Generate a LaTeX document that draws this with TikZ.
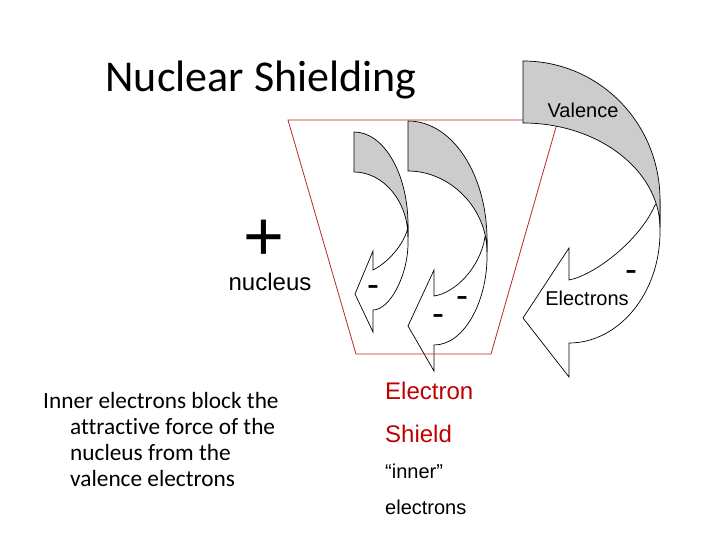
\documentclass[tikz,border=0pt]{standalone}
\usepackage{fontspec}
\setmainfont{Liberation Sans}
\newfontfamily\calib[Ligatures=NoCommon]{Carlito}
\definecolor{shred}{RGB}{192,0,0}
\definecolor{lineRed}{RGB}{185,40,40}
\definecolor{shade}{RGB}{204,204,204}
\begin{document}
\begin{tikzpicture}[x=1pt,y=-1pt,
  arrowbody/.style={draw=black,line width=0.7pt,fill=white,line join=miter},
  arrowshade/.style={draw=black,line width=0.7pt,fill=shade},
  shieldline/.style={draw=lineRed,line width=0.8pt},
  minus/.style={font=\fontsize{36}{36}\selectfont,inner sep=0,anchor=base},
  lbl/.style={inner sep=0}]
\useasboundingbox (0,0) rectangle (720,540);

% arrow A
\path[arrowbody] (408,225) -- (408,243) .. controls (408,275) and (390,310) .. (373,310) -- (373,332) -- (355,294) -- (373,251) -- (373,270) .. controls (385,264) and (401,249) .. (407,231) -- cycle;
\path[arrowshade] (354,132) .. controls (384,132) and (408,174) .. (408,225) -- (408,237) .. controls (408,201) and (383,172) .. (354,172) -- cycle;

% arrow B
\path[arrowbody] (487,240) -- (487,257) .. controls (487,300) and (465,345) .. (434,345) -- (434,371) -- (408,326) -- (434,270) -- (434,296) .. controls (455,293) and (480,268) .. (485,237) -- cycle;
\path[arrowshade] (408,121) .. controls (452,121) and (487,174) .. (487,240) -- (487,252) .. controls (487,208) and (450,171) .. (408,171) -- cycle;

% electron shield
\path[shieldline] (288,120) -- (558,120) -- (491,354) -- (356,354) -- cycle;

% arrow C
\path[arrowbody] (660,200) -- (660,232) .. controls (660,293) and (619,343) .. (569,343) -- (569,377) -- (523,318) -- (569,248) -- (569,280) .. controls (595,275) and (640,240) .. (655,205) -- cycle;
\path[arrowshade] (523,61) .. controls (599,61) and (660,123) .. (660,200) -- (660,227) .. controls (659,170) and (598,123) .. (523,123) -- cycle;

% texts
\node[lbl,anchor=base,font=\calib\fontsize{44}{44}\selectfont] (title) at (261,92) {Nuclear Shielding};
\node[lbl,anchor=base,font=\fontsize{70}{70}\selectfont] (plus) at (264,260) {+};
\node[lbl,anchor=base,font=\fontsize{24}{24}\selectfont] (nucleus) at (270,290) {nucleus};
\node[lbl,anchor=base west,font=\calib\fontsize{23.3}{26}\selectfont] (inner) at (43,408)
  {\parbox[t]{280pt}{\raggedright\hangindent=27pt\hangafter=1 Inner electrons block the\newline attractive force of the\newline nucleus from the\newline valence electrons}};
\node[lbl,anchor=base,font=\fontsize{20}{20}\selectfont] (valence) at (583,118) {Valence};
\node[lbl,anchor=base,font=\fontsize{20}{20}\selectfont] (electrons) at (587,305) {Electrons};
\node[lbl,anchor=base west,font=\fontsize{24}{24}\selectfont,text=shred] (electron) at (385,399) {Electron};
\node[lbl,anchor=base west,font=\fontsize{24}{24}\selectfont,text=shred] (shield) at (385,442) {Shield};
\node[lbl,anchor=base west,font=\fontsize{20}{20}\selectfont] (innerq) at (385,478) {“inner”};
\node[lbl,anchor=base west,font=\fontsize{20}{20}\selectfont] (electronsb) at (385,514) {electrons};

% minus signs
\node[minus] (mA) at (373,296) {-};
\node[minus] (mB1) at (462,307) {-};
\node[minus] (mB2) at (438,325) {-};
\node[minus] (mC) at (631,281) {-};
\end{tikzpicture}
\end{document}
